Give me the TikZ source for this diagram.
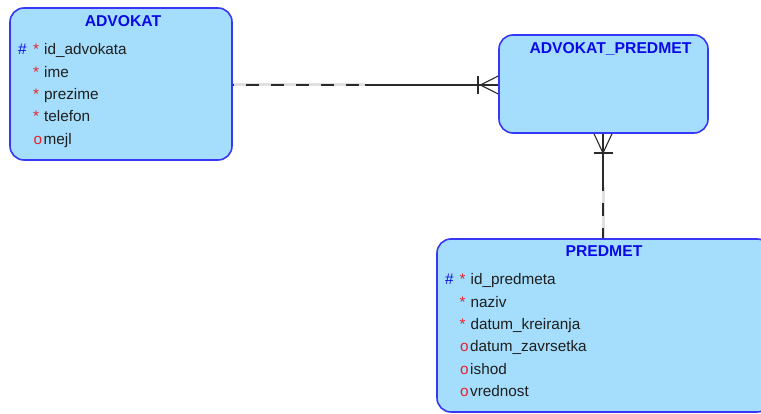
\documentclass[tikz,border=0pt]{standalone}
\usepackage{fontspec}
\setmainfont{Liberation Sans}
\definecolor{boxfill}{HTML}{A4DEFC}
\definecolor{boxdraw}{HTML}{3838F4}
\definecolor{titleblue}{HTML}{0A0AE6}
\definecolor{keyred}{HTML}{E8222A}
\definecolor{fieldtext}{HTML}{1E1E1E}
\definecolor{linegray}{HTML}{2A2A2A}
\definecolor{ghost}{HTML}{E0E0E0}
\begin{document}
\begin{tikzpicture}[x=1pt,y=-1pt,
  entity/.style={draw=boxdraw, fill=boxfill, line width=1.6pt, rounded corners=14pt, inner sep=0pt},
  ttl/.style={font=\bfseries\fontsize{15.7}{15.7}\selectfont, text=titleblue, anchor=base, inner sep=0pt},
  fld/.style={font=\fontsize{15.3}{15.3}\selectfont, text=fieldtext, anchor=base west, inner sep=0pt},
  pk/.style={fld, text=titleblue},
  req/.style={fld, text=keyred},
  opt/.style={fld, text=keyred},
  rel/.style={draw=linegray, line width=1.1pt},
  relbg/.style={draw=ghost, line width=3pt},
  reldash/.style={rel, dash pattern=on 13pt off 12pt}
]
\useasboundingbox (0,0) rectangle (761,414);
\clip (0,0) rectangle (761,414);

% entities
\node[entity, minimum width=222pt, minimum height=152pt] (adv) at (121,84) {};
\node[entity, minimum width=209pt, minimum height=98pt] (ap) at (603.5,84) {};
\node[entity, minimum width=334pt, minimum height=173pt] (pred) at (604,325.5) {};

% ADVOKAT
\node[ttl] (advT) at (123,26.7) {ADVOKAT};
\node[pk]  (advH1) at (18,55) {\#};
\node[req] (advS1) at (33,55) {*};
\node[fld] (advF1) at (44,55) {id\_advokata};
\node[req] (advS2) at (33,77.3) {*};
\node[fld] (advF2) at (44,77.3) {ime};
\node[req] (advS3) at (33,99.6) {*};
\node[fld] (advF3) at (44,99.6) {prezime};
\node[req] (advS4) at (33,121.9) {*};
\node[fld] (advF4) at (44,121.9) {telefon};
\node[opt] (advO5) at (33.5,144.2) {o};
\node[fld] (advF5) at (43.5,144.2) {mejl};

% ADVOKAT_PREDMET
\node[ttl] (apT) at (610.5,53.3) {ADVOKAT\_PREDMET};

% PREDMET
\node[ttl] (predT) at (604,256.7) {PREDMET};
\node[pk]  (prH1) at (445,285) {\#};
\node[req] (prS1) at (459.5,285) {*};
\node[fld] (prF1) at (470.5,285) {id\_predmeta};
\node[req] (prS2) at (459.5,307.3) {*};
\node[fld] (prF2) at (470.5,307.3) {naziv};
\node[req] (prS3) at (459.5,329.3) {*};
\node[fld] (prF3) at (470.5,329.3) {datum\_kreiranja};
\node[opt] (prO4) at (460,351.7) {o};
\node[fld] (prF4) at (470,351.7) {datum\_zavrsetka};
\node[opt] (prO5) at (460,374) {o};
\node[fld] (prF5) at (470,374) {ishod};
\node[opt] (prO6) at (460,396) {o};
\node[fld] (prF6) at (470,396) {vrednost};

% connector ADVOKAT -- ADVOKAT_PREDMET
\coordinate (h1) at (adv.east |- 0,85);
\coordinate (hm) at (365,85);
\coordinate (hf) at (480.5,85);
\coordinate (h2) at (ap.west |- 0,85);
\draw[relbg] (h1) -- (hm);
\draw[reldash, dash phase=-13pt] (h1) -- (hm);
\draw[rel] (hm) -- (h2);
\draw[rel] (hf) -- ([yshift=-9pt]h2);
\draw[rel] (hf) -- ([yshift=9pt]h2);
\draw[rel] (478,76) -- (478,94);

% connector ADVOKAT_PREDMET -- PREDMET
\coordinate (v1) at (ap.south -| 603,0);
\coordinate (vf) at (603,153);
\coordinate (vm) at (603,187);
\coordinate (v2) at (pred.north -| 603,0);
\draw[rel] (v1) -- (vm);
\draw[relbg] (vm) -- (v2);
\draw[reldash, dash phase=-16pt] (vm) -- (v2);
\draw[rel] (vf) -- ([xshift=-9pt]v1);
\draw[rel] (vf) -- ([xshift=9pt]v1);
\draw[rel] (593.5,153) -- (612.5,153);
\end{tikzpicture}
\end{document}
